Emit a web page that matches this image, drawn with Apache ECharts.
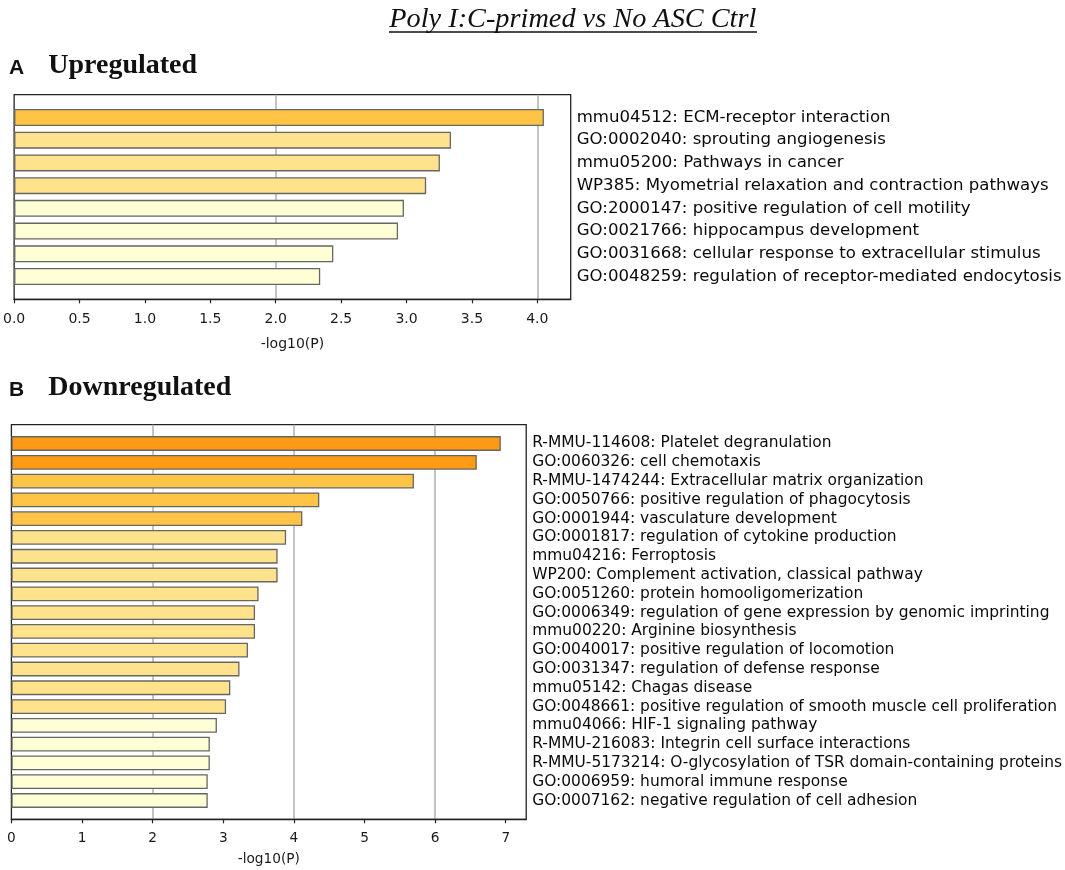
<!DOCTYPE html>
<html>
<head>
<meta charset="utf-8">
<script src="https://cdn.jsdelivr.net/npm/echarts@6/dist/echarts.min.js"></script>
<style>
html,body{margin:0;padding:0;background:#ffffff;}
#chart{width:1065px;height:870px;}
</style>
</head>
<body>
<div id="chart"></div>
<script>
// ---- Data ----
const upLabels = [
  'mmu04512: ECM-receptor interaction',
  'GO:0002040: sprouting angiogenesis',
  'mmu05200: Pathways in cancer',
  'WP385: Myometrial relaxation and contraction pathways',
  'GO:2000147: positive regulation of cell motility',
  'GO:0021766: hippocampus development',
  'GO:0031668: cellular response to extracellular stimulus',
  'GO:0048259: regulation of receptor-mediated endocytosis'
];
const upValues = [4.05, 3.34, 3.255, 3.15, 2.98, 2.935, 2.44, 2.34];

const downLabels = [
  'R-MMU-114608: Platelet degranulation',
  'GO:0060326: cell chemotaxis',
  'R-MMU-1474244: Extracellular matrix organization',
  'GO:0050766: positive regulation of phagocytosis',
  'GO:0001944: vasculature development',
  'GO:0001817: regulation of cytokine production',
  'mmu04216: Ferroptosis',
  'WP200: Complement activation, classical pathway',
  'GO:0051260: protein homooligomerization',
  'GO:0006349: regulation of gene expression by genomic imprinting',
  'mmu00220: Arginine biosynthesis',
  'GO:0040017: positive regulation of locomotion',
  'GO:0031347: regulation of defense response',
  'mmu05142: Chagas disease',
  'GO:0048661: positive regulation of smooth muscle cell proliferation',
  'mmu04066: HIF-1 signaling pathway',
  'R-MMU-216083: Integrin cell surface interactions',
  'R-MMU-5173214: O-glycosylation of TSR domain-containing proteins',
  'GO:0006959: humoral immune response',
  'GO:0007162: negative regulation of cell adhesion'
];
const downValues = [6.93, 6.59, 5.70, 4.36, 4.12, 3.89, 3.77, 3.77, 3.50, 3.45,
                    3.45, 3.35, 3.23, 3.10, 3.04, 2.91, 2.81, 2.81, 2.78, 2.78];

const upTicks = [0, 0.5, 1, 1.5, 2, 2.5, 3, 3.5, 4];
const downTicks = [0, 1, 2, 3, 4, 5, 6, 7];
const upMax = 4.255;
const downMax = 7.29;
const axisName = '-log10(P)';

// ---- Styling helpers ----
function colorFor(v) {
  if (v >= 6) return '#FF9A14';
  if (v >= 4) return '#FFC445';
  if (v >= 3) return '#FFE28C';
  return '#FFFFD6';
}
function padCats(arr) { return [''].concat(arr, ['']); }
function padData(arr) {
  return ['-'].concat(arr.map(v => ({ value: v, itemStyle: { color: colorFor(v) } })), ['-']);
}

const chart = echarts.init(document.getElementById('chart'), null, { renderer: 'canvas' });

const tickColor = '#1a1a1a';
const frameColor = '#222';

function mainX(gridIndex, max, ticks, fontSize, margin, nameGap, fmt) {
  return {
    type: 'value', gridIndex: gridIndex, min: 0, max: max,
    interval: ticks[1] - ticks[0],
    position: 'bottom',
    name: axisName, nameLocation: 'middle', nameGap: nameGap,
    nameTextStyle: { fontFamily: 'DejaVu Sans', fontSize: fontSize, color: tickColor },
    axisLine: { show: true, lineStyle: { color: frameColor, width: 1.3 } },
    axisTick: { show: true, length: 4, inside: false, customValues: ticks,
                lineStyle: { color: frameColor, width: 1.2 } },
    axisLabel: { show: true, customValues: ticks, margin: margin,
                 fontFamily: 'DejaVu Sans', fontSize: fontSize, color: tickColor,
                 formatter: v => (ticks.indexOf(v) >= 0 ? fmt(v) : '') },
    splitLine: { show: false }
  };
}
function gridX(gridIndex, max) {
  return {
    type: 'value', gridIndex: gridIndex, min: 0, max: max, interval: 2,
    position: 'bottom',
    axisLine: { show: false }, axisTick: { show: false }, axisLabel: { show: false },
    splitLine: { show: true, showMinLine: false, showMaxLine: false,
                 lineStyle: { color: '#b0b0b0', width: 1.5 } }
  };
}
function catY(gridIndex, labels, fontSize) {
  return {
    type: 'category', gridIndex: gridIndex, inverse: true, boundaryGap: false,
    position: 'right', data: padCats(labels),
    axisLine: { show: false }, axisTick: { show: false }, splitLine: { show: false },
    axisLabel: { show: true, interval: 0, margin: 6, align: 'left',
                 fontFamily: 'DejaVu Sans', fontSize: fontSize, color: '#0a0a0a' }
  };
}

const option = {
  backgroundColor: '#ffffff',
  animation: false,
  grid: [
    { left: 13.8, top: 94.7, width: 556.9, height: 204.6, show: true,
      borderColor: frameColor, borderWidth: 1.3, backgroundColor: 'transparent' },
    { left: 11.4, top: 424.7, width: 516.9, height: 394.6, show: true,
      borderColor: frameColor, borderWidth: 1.3, backgroundColor: 'transparent' }
  ],
  xAxis: [
    mainX(0, upMax, upTicks, 14, 13, 38, v => v.toFixed(1)),
    gridX(0, upMax),
    mainX(1, downMax, downTicks, 13.7, 12, 33, v => String(v)),
    gridX(1, downMax)
  ],
  yAxis: [
    catY(0, upLabels, 16.6),
    catY(1, downLabels, 15.45)
  ],
  series: [
    { type: 'bar', xAxisIndex: 0, yAxisIndex: 0, data: padData(upValues),
      barWidth: 17, z: 3,
      itemStyle: { borderColor: '#666666', borderWidth: 1.3 } },
    { type: 'bar', xAxisIndex: 2, yAxisIndex: 1, data: padData(downValues),
      barWidth: 14.8, z: 3,
      itemStyle: { borderColor: '#666666', borderWidth: 1.3 } }
  ],
  graphic: [
    { type: 'text', left: 389.3, top: 5.5, style: {
        text: 'Poly I:C-primed vs No ASC Ctrl', fill: '#111',
        font: 'italic 28.3px "Liberation Serif", "Times New Roman", serif' } },
    { type: 'line', shape: { x1: 389, y1: 32, x2: 757, y2: 32 },
      style: { stroke: '#111', lineWidth: 1.3 } },
    { type: 'text', left: 9, top: 57.5, style: {
        text: 'A', fill: '#111', font: 'bold 21px "Liberation Sans", Arial, sans-serif' } },
    { type: 'text', left: 48.3, top: 51.5, style: {
        text: 'Upregulated', fill: '#111', font: 'bold 28px "Liberation Serif", "Times New Roman", serif' } },
    { type: 'text', left: 9, top: 379.5, style: {
        text: 'B', fill: '#111', font: 'bold 21px "Liberation Sans", Arial, sans-serif' } },
    { type: 'text', left: 48.3, top: 373.5, style: {
        text: 'Downregulated', fill: '#111', font: 'bold 28px "Liberation Serif", "Times New Roman", serif' } }
  ]
};
chart.setOption(option);
</script>
</body>
</html>
